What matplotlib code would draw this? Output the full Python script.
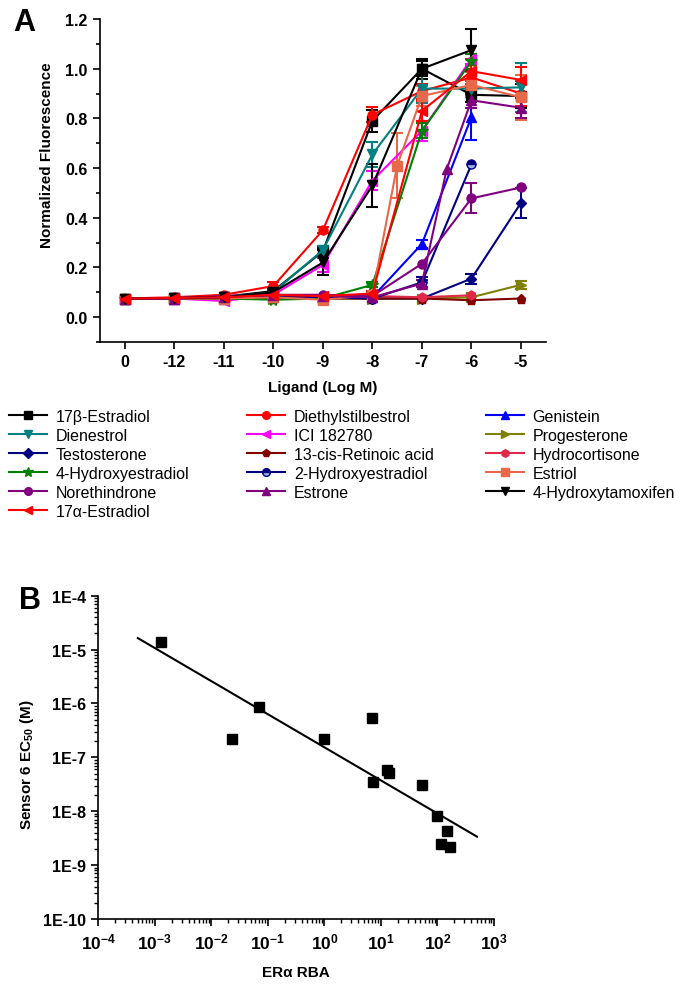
import numpy as np
import matplotlib
matplotlib.use('Agg')
import matplotlib.pyplot as plt
from matplotlib.ticker import MultipleLocator, FuncFormatter, LogLocator, NullFormatter

plt.rcParams['font.family'] = ['Liberation Sans', 'DejaVu Sans']
plt.rcParams['font.weight'] = 'bold'
plt.rcParams['mathtext.fontset'] = 'custom'
plt.rcParams['mathtext.rm'] = 'Liberation Sans'
plt.rcParams['mathtext.bf'] = 'Liberation Sans:bold'
plt.rcParams['mathtext.it'] = 'Liberation Sans:italic'

nan = np.nan

# ---------------- Panel A data ----------------
tick_labels = ['0', '-12', '-11', '-10', '-9', '-8', '-7', '-6', '-5']
tick_doses = [None, -12, -11, -10, -9, -8, -7, -6, -5]
log_dose = [None, -12, -11, -10, -9, -8, -7.5, -7, -6.5, -6, -5]   # None = vehicle control ("0")

names = ['17β-Estradiol', 'Diethylstilbestrol', 'Genistein', 'Dienestrol', 'ICI 182780',
         'Progesterone', 'Testosterone', '13-cis-Retinoic acid', 'Hydrocortisone',
         '4-Hydroxyestradiol', '2-Hydroxyestradiol', 'Estriol', 'Norethindrone', 'Estrone',
         '4-Hydroxytamoxifen', '17α-Estradiol']

estradiol_b   = [.075, .077, .082, .105, .265, .79, nan, 1.0, nan, .895, .89]
des           = [.075, .080, .090, .125, .35, .815, nan, .91, nan, .965, .90]
genistein     = [.075, .075, .075, .080, .075, .080, nan, .295, nan, .805, nan]
dienestrol    = [.075, .077, .080, .100, .27, .655, nan, .92, nan, .92, .925]
ici           = [.075, .075, .065, .090, .21, .55, nan, .75, nan, 1.04, nan]
progesterone  = [.075, .075, .075, .075, .075, .075, nan, .075, nan, .08, .13]
testosterone  = [.075, .075, .080, .085, .080, .075, nan, .075, nan, .155, .46]
retinoic      = [.075, .075, .075, .075, .075, .075, nan, .075, nan, .068, .075]
hydrocort     = [.075, .075, .080, .080, .080, .085, nan, .080, nan, .088, nan]
oh4_estradiol = [.075, .075, .075, .070, .075, .13, nan, .75, nan, 1.03, nan]
oh2_estradiol = [.075, .075, .080, .085, .080, .075, nan, .14, nan, .615, nan]
estriol       = [.075, .075, .075, .080, .070, .090, .61, .89, nan, .935, .885]
norethindrone = [.075, .075, .085, .090, .090, .085, nan, .215, nan, .478, .522]
estrone       = [.075, .075, .080, .090, .085, .080, nan, .135, .595, .873, .843]
hydroxytamox  = [.075, .077, .080, .100, .22, .53, nan, 1.0, nan, 1.075, nan]
estradiol_a   = [.075, .077, .080, .090, .085, .095, nan, .83, nan, .99, .955]

err_estradiol_b   = [nan, nan, nan, .01, .015, .045, nan, .04, nan, .03, .05]
err_des           = [nan, nan, nan, .015, .012, .03, nan, .03, nan, .05, .05]
err_genistein     = [nan, nan, nan, nan, nan, nan, nan, .015, nan, .09, nan]
err_dienestrol    = [nan, nan, nan, nan, .015, .05, nan, .06, nan, .03, .10]
err_ici           = [nan, nan, nan, nan, .03, .04, nan, .04, nan, .02, nan]
err_progesterone  = [nan, nan, nan, nan, nan, nan, nan, nan, nan, nan, .015]
err_testosterone  = [nan, nan, nan, nan, nan, nan, nan, nan, nan, .02, .06]
err_retinoic      = [nan] * 11
err_hydrocort     = [nan] * 11
err_oh4_estradiol = [nan, nan, nan, nan, nan, .01, nan, .03, nan, .03, nan]
err_oh2_estradiol = [nan, nan, nan, nan, nan, nan, nan, .02, nan, nan, nan]
err_estriol       = [nan, nan, nan, nan, .01, .01, .13, .04, nan, .05, .09]
err_norethindrone = [nan, nan, nan, nan, nan, nan, nan, nan, nan, .06, nan]
err_estrone       = [nan, nan, nan, nan, nan, nan, nan, .015, nan, .03, .04]
err_hydroxytamox  = [nan, nan, nan, nan, .05, .085, nan, .03, nan, .085, nan]
err_estradiol_a   = [nan, nan, nan, nan, nan, .01, nan, .04, nan, .05, .05]

values = [estradiol_b, des, genistein, dienestrol, ici, progesterone, testosterone, retinoic,
          hydrocort, oh4_estradiol, oh2_estradiol, estriol, norethindrone, estrone,
          hydroxytamox, estradiol_a]
errors = [err_estradiol_b, err_des, err_genistein, err_dienestrol, err_ici, err_progesterone,
          err_testosterone, err_retinoic, err_hydrocort, err_oh4_estradiol, err_oh2_estradiol,
          err_estriol, err_norethindrone, err_estrone, err_hydroxytamox, err_estradiol_a]

colors = ['#000000', '#FF0000', '#0000FF', '#008080', '#FF00FF', '#808000', '#000080', '#800000',
          '#E0284A', '#008000', '#000080', '#E8684A', '#800080', '#800080', '#000000', '#FF0000']
markers = ['s', 'o', '^', 'v', '<', '>', 'D', 'p', 'h', '*', 'o', 's', 'o', '^', 'v', '<']

# ---------------- Panel B data ----------------
rba  = [0.0013, 0.0228, 0.0695, 1.0, 6.93, 7.2, 12.9, 13.7, 52.4, 97.9, 147, 113.5, 166]
ec50 = [1.36e-5, 2.19e-7, 8.73e-7, 2.22e-7, 5.45e-7, 3.54e-8, 5.83e-8, 5.06e-8, 3.03e-8,
        8.05e-9, 4.3e-9, 2.44e-9, 2.14e-9]
fit_range = [5e-4, 500]


def dose_to_pos(d):
    return 0.0 if d is None else d + 13.0


fig = plt.figure(figsize=(6.86, 9.87), dpi=100)

# ---------------- Panel A ----------------
axA = fig.add_axes([0.1458, 0.6525, 0.6497, 0.3272])
xpos = np.array([dose_to_pos(d) for d in log_dose])
handles = []
for name, v, e, c, m in zip(names, values, errors, colors, markers):
    v = np.array(v, dtype=float)
    e = np.array(e, dtype=float)
    ok = ~np.isnan(v)
    ms = 6.5
    if m == 'D':
        ms = 5.5
    if m == '*':
        ms = 8.5
    kw = {}
    if name == '2-Hydroxyestradiol':
        kw = dict(fillstyle='top', markerfacecoloralt='#9FB4E8')
    eok = ok & ~np.isnan(e)
    if eok.any():
        axA.errorbar(xpos[eok], v[eok], yerr=e[eok], fmt='none', ecolor=c, elinewidth=1.5,
                     capsize=4, capthick=1.5, zorder=2)
    h, = axA.plot(xpos[ok], v[ok], color=c, marker=m, ms=ms, lw=1.5, mec=c, mfc=c,
                  label=name, zorder=3, **kw)
    handles.append(h)

axA.set_xlim(-0.5, 8.5)
axA.set_ylim(-0.1, 1.2)
axA.set_xticks([dose_to_pos(d) for d in tick_doses])
axA.set_xticklabels(tick_labels)
axA.set_yticks(np.arange(0, 1.21, 0.2))
axA.yaxis.set_major_formatter(FuncFormatter(lambda v, p: f'{v:.1f}'))
axA.yaxis.set_minor_locator(MultipleLocator(0.1))
for s in ['top', 'right']:
    axA.spines[s].set_visible(False)
for s in ['left', 'bottom']:
    axA.spines[s].set_linewidth(1.2)
axA.tick_params(which='major', direction='out', length=5, width=1.2, labelsize=11.5, pad=4)
axA.tick_params(which='minor', direction='out', length=3, width=1.2)
axA.set_ylabel('Normalized Fluorescence', fontsize=11, fontweight='bold')
axA.yaxis.label.set_verticalalignment('center')
axA.yaxis.set_label_coords((46.7 - 100) / 445.7, (343 - 155) / 323)
axA.set_xlabel('Ligand (Log M)', fontsize=11, fontweight='bold')
axA.xaxis.label.set_verticalalignment('center')
axA.xaxis.set_label_coords(0.5, (343 - 388) / 323)

# Legend: three columns (row-major reading order of the reference)
columns = [[0, 3, 6, 9, 12, 15], [1, 4, 7, 10, 13], [2, 5, 8, 11, 14]]
col_x = [8.7, 247, 485.6]
for idxs, cx in zip(columns, col_x):
    leg = fig.legend([handles[i] for i in idxs], [names[i] for i in idxs],
                     loc='upper left', bbox_to_anchor=(cx / 686, 1 - 410 / 987),
                     frameon=False, borderpad=0, borderaxespad=0, handlelength=2.4,
                     handletextpad=0.55, labelspacing=0.25, markerscale=0.85,
                     prop={'size': 11.5, 'weight': 'normal'})

# ---------------- Panel B ----------------
axB = fig.add_axes([0.1433, 0.0679, 0.5768, 0.3275])
axB.set_xscale('log')
axB.set_yscale('log')
axB.plot(rba, ec50, linestyle='none', marker='s', ms=6.5, color='black', zorder=3)
coef = np.polyfit(np.log10(rba), np.log10(ec50), 1)
xf = np.logspace(np.log10(fit_range[0]), np.log10(fit_range[1]), 50)
axB.plot(xf, 10 ** np.polyval(coef, np.log10(xf)), color='black', lw=1.5)
axB.set_xlim(1e-4, 1e3)
axB.set_ylim(1e-10, 1e-4)
axB.xaxis.set_major_locator(LogLocator(base=10, numticks=20))
axB.xaxis.set_minor_locator(LogLocator(base=10, subs=np.arange(2, 10), numticks=20))
axB.yaxis.set_major_locator(LogLocator(base=10, numticks=20))
axB.yaxis.set_minor_locator(LogLocator(base=10, subs=np.arange(2, 10), numticks=20))
axB.xaxis.set_major_formatter(FuncFormatter(
    lambda v, p: r'$\mathbf{10^{%d}}$' % int(round(np.log10(v)))))
axB.yaxis.set_major_formatter(FuncFormatter(lambda v, p: '1E%d' % int(round(np.log10(v)))))
axB.xaxis.set_minor_formatter(NullFormatter())
axB.yaxis.set_minor_formatter(NullFormatter())
for s in ['top', 'right']:
    axB.spines[s].set_visible(False)
for s in ['left', 'bottom']:
    axB.spines[s].set_linewidth(1.2)
axB.tick_params(which='major', direction='out', length=5, width=1.2, labelsize=11.5, pad=4)
axB.tick_params(which='minor', direction='out', length=3, width=1.0)
axB.tick_params(axis='x', which='major', labelsize=12.5)
axB.set_ylabel(r'Sensor 6 EC$_{\mathbf{50}}$ (M)', fontsize=11, fontweight='bold')
axB.yaxis.label.set_verticalalignment('center')
axB.yaxis.set_label_coords((27 - 98.3) / 395.7, (920 - 765) / 323.3)
axB.set_xlabel('ERα RBA', fontsize=11, fontweight='bold')
axB.xaxis.label.set_verticalalignment('center')
axB.xaxis.set_label_coords(0.5, (920 - 973) / 323.3)

fig.text(24 / 686, 1 - 23 / 987, 'A', fontsize=22, fontweight='bold', ha='center', va='center')
fig.text(30 / 686, 1 - 601 / 987, 'B', fontsize=22, fontweight='bold', ha='center', va='center')

fig.savefig('out.png', dpi=100)
